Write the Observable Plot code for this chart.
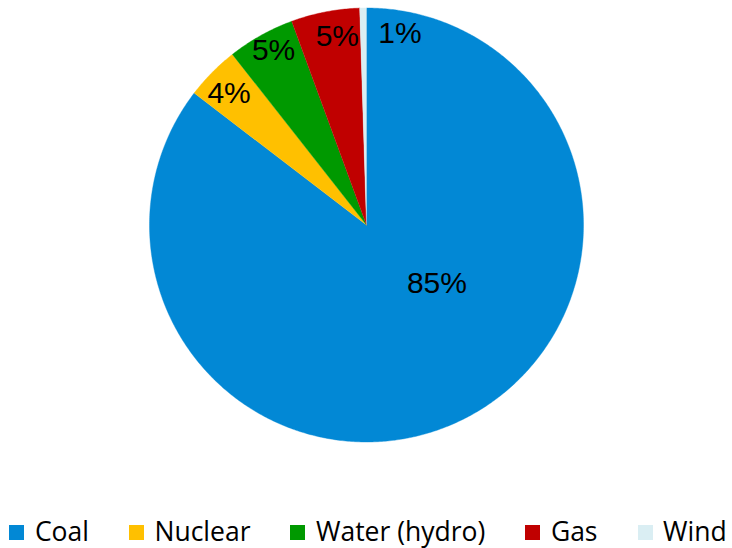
<!DOCTYPE html>
<html>
<head>
<meta charset="utf-8">
<script src="https://cdn.jsdelivr.net/npm/d3@7"></script>
<script src="https://cdn.jsdelivr.net/npm/@observablehq/plot@0.6"></script>
<style>
  html, body { margin: 0; padding: 0; background: #fff; }
  #chart { position: relative; width: 732px; height: 548px; }
  #chart svg { display: block; }
  .legend {
    position: absolute; left: 4px; top: 514px; width: 728px; height: 34px;
    display: flex; justify-content: center; align-items: center;
    font-family: "Open Sans", sans-serif; font-size: 26.5px; line-height: 34px; color: #000;
  }
  .legend .item { display: flex; align-items: center; margin: 0 20px; white-space: nowrap; }
  .legend .sw { width: 15px; height: 15px; margin-right: 10.5px; margin-top: 3px; }
</style>
</head>
<body>
<div id="chart"></div>
<script>
// Electricity generation by source, percent share
const sources = ["Coal", "Nuclear", "Water (hydro)", "Gas", "Wind"];
const shares = [85.4, 4.0, 5.0, 5.1, 0.5];
const colors = ["#0288D5", "#FFC000", "#009900", "#C00000", "#DAEEF3"];

// Label placement inside the pie: fraction of the radius and a small turn (degrees)
const labelPlacement = {
  "Coal": {r: 0.422, turn: -24},
  "Nuclear": {r: 0.878, turn: -0.8},
  "Water (hydro)": {r: 0.913, turn: 1.2},
  "Gas": {r: 0.88, turn: 2.2},
  "Wind": {r: 0.896, turn: 10.8}
};

const slices = d3.pie().sort(null).value(d => d.share)(
  sources.map((name, i) => ({name, share: shares[i]}))
);

// Outline of each wedge: centre, then along the arc, clockwise from 12 o'clock
const wedgePoints = slices.flatMap(s => {
  const n = Math.max(2, Math.ceil((s.endAngle - s.startAngle) / (Math.PI / 360)));
  const pts = [{name: s.data.name, x: 0, y: 0}];
  for (let k = 0; k <= n; ++k) {
    const a = s.startAngle + (s.endAngle - s.startAngle) * k / n;
    pts.push({name: s.data.name, x: Math.sin(a), y: Math.cos(a)});
  }
  return pts;
});

const labels = slices.map(s => {
  const p = labelPlacement[s.data.name];
  const a = (s.startAngle + s.endAngle) / 2 + p.turn * Math.PI / 180;
  return {name: s.data.name, text: `${Math.round(s.data.share)}%`, x: p.r * Math.sin(a), y: p.r * Math.cos(a)};
});

const R = 217;
const chart = Plot.plot({
  width: 732,
  height: 510,
  marginLeft: 366 - R,
  marginRight: 732 - 366 - R,
  marginTop: 7.5,
  marginBottom: 510 - 7.5 - 2 * R,
  x: {domain: [-1, 1], axis: null},
  y: {domain: [-1, 1], axis: null},
  color: {domain: sources, range: colors},
  style: {background: "#fff", overflow: "visible"},
  marks: [
    Plot.line(wedgePoints, {x: "x", y: "y", z: "name", fill: "name", stroke: "name", strokeWidth: 0.4}),
    Plot.text(labels, {x: "x", y: "y", text: "text", fill: "#000", fontSize: 30,
      fontFamily: "'Liberation Sans', Arial, sans-serif"})
  ]
});

const root = document.getElementById("chart");
root.appendChild(chart);

// Legend drawn from the same colour scale
const color = chart.scale("color");
const legend = document.createElement("div");
legend.className = "legend";
color.domain.forEach((name, i) => {
  const item = document.createElement("div");
  item.className = "item";
  const sw = document.createElement("span");
  sw.className = "sw";
  sw.style.background = color.range[i];
  const label = document.createElement("span");
  label.textContent = name;
  item.append(sw, label);
  legend.appendChild(item);
});
root.appendChild(legend);
</script>
</body>
</html>
